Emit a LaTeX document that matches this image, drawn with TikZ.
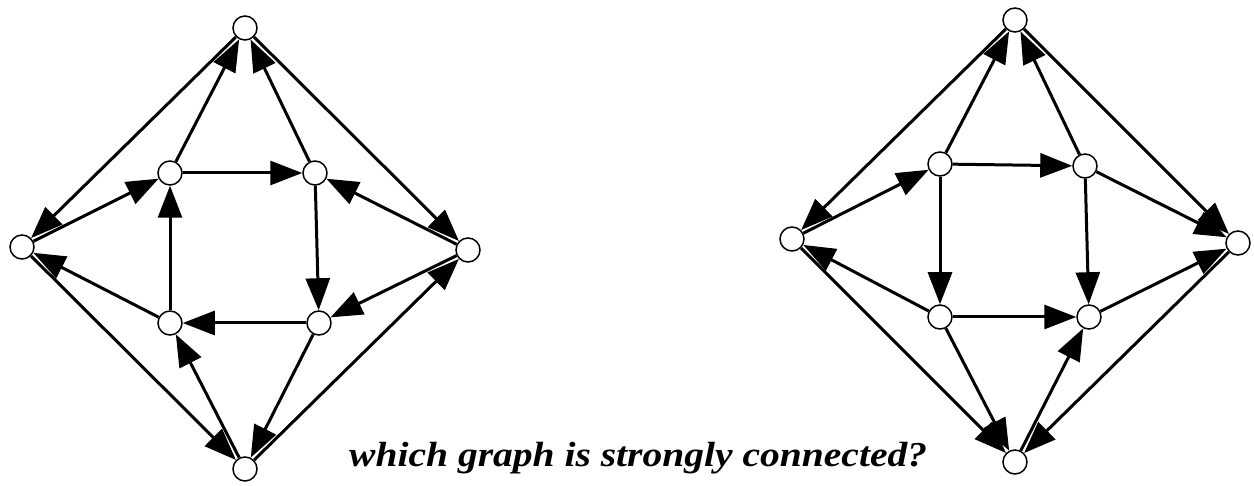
\documentclass[tikz,border=0pt]{standalone}
\usepackage{fontspec}
\usepackage{graphicx}
\setmainfont{Liberation Serif}
\usetikzlibrary{arrows.meta}
\begin{document}
\begin{tikzpicture}[x=1pt,y=-1pt,
  vert/.style={circle,draw,line width=1.5pt,fill=white,minimum size=24pt,inner sep=0pt},
  arc/.style={line width=3pt,-{Triangle[length=32pt 0,width=24pt 0]}}]
\useasboundingbox (0,0) rectangle (1254,486);
% left graph
\node[vert] (aT) at (245,28) {};
\node[vert] (aL) at (22,247) {};
\node[vert] (aR) at (468,250) {};
\node[vert] (aB) at (245,469) {};
\node[vert] (aUL) at (170,173) {};
\node[vert] (aUR) at (315,173) {};
\node[vert] (aLL) at (170,323) {};
\node[vert] (aLR) at (319,323) {};
\draw[arc] (aT) -- (aL);
\draw[arc] (aL) -- (aUL);
\draw[arc] (aUL) -- (aT);
\draw[arc] (aUR) -- (aT);
\draw[arc] (aT) -- (aR);
\draw[arc] (aUL) -- (aUR);
\draw[arc] (aR) -- (aUR);
\draw[arc] (aUR) -- (aLR);
\draw[arc] (aR) -- (aLR);
\draw[arc] (aLR) -- (aLL);
\draw[arc] (aLL) -- (aUL);
\draw[arc] (aLL) -- (aL);
\draw[arc] (aL) -- (aB);
\draw[arc] (aB) -- (aLL);
\draw[arc] (aLR) -- (aB);
\draw[arc] (aB) -- (aR);
% right graph
\node[vert] (bT) at (1015,20) {};
\node[vert] (bL) at (792,239) {};
\node[vert] (bR) at (1238,243) {};
\node[vert] (bB) at (1015,462) {};
\node[vert] (bUL) at (940,164) {};
\node[vert] (bUR) at (1085,166) {};
\node[vert] (bLL) at (940,317) {};
\node[vert] (bLR) at (1089,317) {};
\draw[arc] (bT) -- (bL);
\draw[arc] (bL) -- (bUL);
\draw[arc] (bUL) -- (bT);
\draw[arc] (bUR) -- (bT);
\draw[arc] (bT) -- (bR);
\draw[arc] (bUL) -- (bUR);
\draw[arc] (bUR) -- (bR);
\draw[arc] (bUL) -- (bLL);
\draw[arc] (bUR) -- (bLR);
\draw[arc] (bLL) -- (bLR);
\draw[arc] (bLR) -- (bR);
\draw[arc] (bLL) -- (bL);
\draw[arc] (bL) -- (bB);
\draw[arc] (bLL) -- (bB);
\draw[arc] (bB) -- (bLR);
\draw[arc] (bR) -- (bB);
% caption
\node[anchor=base west,inner sep=0pt] (q) at (349,466)
  {\scalebox{1.13}[1]{\fontsize{35}{42}\selectfont\bfseries\itshape which graph is strongly connected?}};
\end{tikzpicture}
\end{document}
